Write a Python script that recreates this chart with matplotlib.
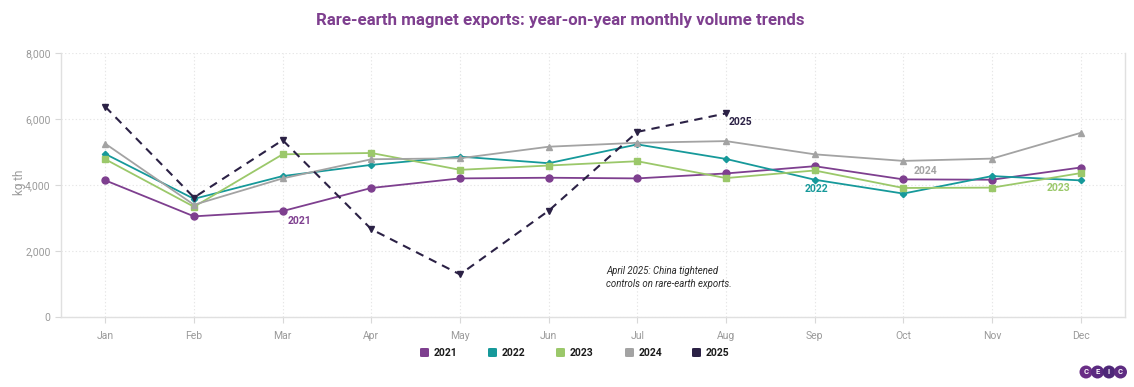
import matplotlib
matplotlib.use("Agg")
import matplotlib.pyplot as plt
from matplotlib.patches import Circle, FancyBboxPatch
import numpy as np

plt.rcParams['font.family'] = ['Roboto', 'DejaVu Sans']

months = ["Jan", "Feb", "Mar", "Apr", "May", "Jun", "Jul", "Aug", "Sep", "Oct", "Nov", "Dec"]
v2021 = [4140, 3050, 3210, 3910, 4200, 4220, 4200, 4350, 4570, 4170, 4160, 4530]
v2022 = [4940, 3580, 4270, 4610, 4860, 4660, 5230, 4790, 4160, 3740, 4270, 4140]
v2023 = [4780, 3340, 4930, 4970, 4460, 4590, 4720, 4210, 4440, 3910, 3920, 4360]
v2024 = [5250, 3400, 4200, 4780, 4810, 5160, 5280, 5330, 4930, 4730, 4800, 5580]
v2025 = [6370, 3620, 5360, 2660, 1290, 3220, 5610, 6170]
series_names = ["2021", "2022", "2023", "2024", "2025"]
colors = ["#7E3F8F", "#16999A", "#9BC86A", "#A3A3A3", "#2B2145"]

fig = plt.figure(figsize=(11.34, 3.87), dpi=100)
ax = fig.add_axes([61/1134, 1-317/387, (1125-61)/1134, (317-53)/387])

x = np.arange(len(months))
lw = 1.3
ax.plot(x, v2021, color=colors[0], lw=lw, marker='o', ms=5, zorder=3)
ax.plot(x, v2022, color=colors[1], lw=lw, marker='D', ms=3.2, zorder=3)
ax.plot(x, v2023, color=colors[2], lw=lw, marker='s', ms=4.6, zorder=3)
ax.plot(x, v2024, color=colors[3], lw=lw, marker='^', ms=5, zorder=3)
ax.plot(x[:len(v2025)], v2025, color=colors[4], lw=1.5, ls=(0, (4, 3)),
        marker='v', ms=4.5, zorder=4)

ax.set_xlim(-0.5, 11.5)
ax.set_ylim(0, 8000)
ax.set_xticks(x)
ax.set_xticklabels(months)
ax.set_yticks([0, 2000, 4000, 6000, 8000])
ax.set_yticklabels(["0", "2,000", "4,000", "6,000", "8,000"])
ax.tick_params(axis='both', colors='#D8D8D8', labelcolor='#9A9A9A', labelsize=7.5, length=4, width=0.8)
ax.tick_params(axis='x', pad=6)
ax.grid(True, color='#E6E6E6', ls=(0, (1.2, 2)), lw=0.8)
ax.set_axisbelow(True)
ax.spines['top'].set_visible(False)
for s in ['left', 'bottom', 'right']:
    ax.spines[s].set_color('#E0E0E0')
    ax.spines[s].set_linewidth(1.0)
ax.set_ylabel("kg th", color='#9A9A9A', fontsize=8.5)
ax.yaxis.set_label_coords(-(61 - 26) / (1125 - 61), (317 - 182) / (317 - 53))

# series labels
lab = dict(fontsize=7.5, fontweight='bold')
ax.text(2.06, 3060, "2021", color=colors[0], ha='left', va='top', **lab)
ax.text(8.02, 4030, "2022", color=colors[1], ha='center', va='top', **lab)
ax.text(10.75, 4050, "2023", color=colors[2], ha='center', va='top', **lab)
ax.text(9.25, 4580, "2024", color=colors[3], ha='center', va='top', **lab)
ax.text(7.03, 5910, "2025", color=colors[4], ha='left', va='center', **lab)

ax.text(5.65, 1200, "April 2025: China tightened\ncontrols on rare-earth exports.",
        fontsize=6.9, style='italic', color='#2A2A2A', ha='left', va='center', linespacing=1.35)

fig.text(560/1134, 1-20/387, "Rare-earth magnet exports: year-on-year monthly volume trends",
         ha='center', va='center', fontsize=12.2, fontweight='bold', color='#7E3F8F')

# legend
leg_x = [425, 493, 561, 630, 697]
for lx, name, c in zip(leg_x, series_names, colors):
    fig.patches.append(FancyBboxPatch(((lx - 5) / 1134, 1 - 357/387), 9/1134, 9/387,
                                      boxstyle="round,pad=0.0,rounding_size=0.002",
                                      transform=fig.transFigure, facecolor=c, edgecolor='none'))
    fig.text((lx + 9) / 1134, 1 - 352.5/387, name, ha='left', va='center',
             fontsize=7.5, fontweight='bold', color='#1A1A1A')

# CEIC logo
logo_letters = ["C", "E", "I", "C"]
for i, L in enumerate(logo_letters):
    cx = 1086 + i * 11.5
    cy = 372
    fig.patches.append(Circle((cx, 387 - cy), 6.5, transform=None,
                              facecolor=['#6A2E86', '#5B2A80', '#4E2778', '#5E2C82'][i], edgecolor='none'))
    fig.text(cx / 1134, 1 - cy / 387, L, ha='center', va='center', fontsize=5.5,
             fontweight='bold', color='white')

fig.savefig("out.png", dpi=100, facecolor='white')
